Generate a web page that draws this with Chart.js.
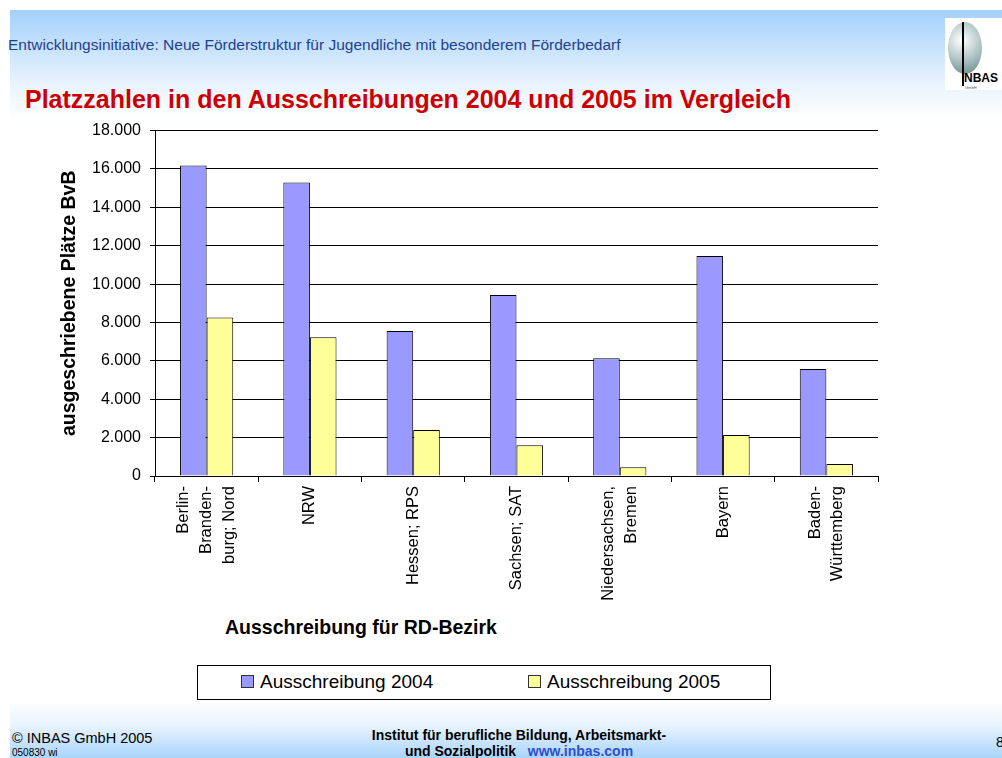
<!DOCTYPE html>
<html>
<head>
<meta charset="utf-8">
<script src="https://cdn.jsdelivr.net/npm/chart.js@4"></script>
<style>
  html, body { margin: 0; padding: 0; }
  body { width: 1002px; height: 758px; position: relative; overflow: hidden; background: #fff; font-family: Arial, "Liberation Sans", sans-serif; }
  #slide { position: absolute; left: 10px; top: 10px; right: 0; bottom: 0;
    background: linear-gradient(to bottom, #a3d0fb 0px, #e6f2fe 70px, #ffffff 110px, #ffffff 690px, #eaf4fe 715px, #a9d4fb 748px); }
  .abs { position: absolute; white-space: nowrap; }
  #sub { left: 8px; top: 36px; font-size: 15.5px; color: #233f8c; }
  #title { left: 25px; top: 85px; font-size: 25px; font-weight: bold; color: #cc0000; }
  #box { left: 40px; top: 122px; width: 840px; height: 581px; background: #fff; }
  #wrap { left: 40px; top: 112px; width: 840px; height: 500px; }
  #xtitle { left: 225px; top: 616px; font-size: 19.5px; font-weight: bold; color: #000; }
  #legend { left: 197px; top: 665px; width: 572px; height: 33px; border: 1px solid #000; background: #fff; }
  .item { position: absolute; top: 6px; font-size: 19px; line-height: 19px; color: #000; }
  .sw { display: inline-block; width: 11px; height: 11px; border: 1px solid #333; margin-right: 6px; vertical-align: 0px; }
  #logo { left: 945px; top: 18px; width: 57px; height: 72px; background: #fff; }
  #foot1 { left: 12px; top: 730px; font-size: 14.5px; color: #000; }
  #foot2 { left: 12px; top: 747px; font-size: 10px; color: #000; }
  #foot3 { left: 369px; top: 727px; width: 300px; text-align: center; font-size: 14px; font-weight: bold; line-height: 16px; color: #000; }
  #foot3 span { color: #2f4fd0; }
  #page { left: 996px; top: 734px; font-size: 14px; }
</style>
</head>
<body>
<div id="slide"></div>
<div class="abs" id="sub">Entwicklungsinitiative: Neue Förderstruktur für Jugendliche mit besonderem Förderbedarf</div>
<div class="abs" id="logo">
  <div style="position:absolute;left:3px;top:4px;width:34px;height:52px;border-radius:50%;background:radial-gradient(circle at 40% 35%, #ffffff, #9fb8b8 60%, #5f7f80);"></div>
  <div style="position:absolute;left:17px;top:4px;width:2px;height:64px;background:#000;"></div>
  <div style="position:absolute;left:19px;top:53px;font-size:12px;font-weight:bold;color:#000;">NBAS</div>
  <div style="position:absolute;left:20px;top:67px;font-size:4px;color:#555;">GmbH</div>
</div>
<div class="abs" id="title">Platzzahlen in den Ausschreibungen 2004 und 2005 im Vergleich</div>
<div class="abs" id="box"></div>
<div class="abs" id="wrap"><canvas id="chart"></canvas></div>
<div class="abs" id="xtitle">Ausschreibung für RD-Bezirk</div>
<div class="abs" id="legend"></div>
<div class="abs" id="foot1">© INBAS GmbH 2005</div>
<div class="abs" id="foot2">050830 wi</div>
<div class="abs" id="foot3">Institut für berufliche Bildung, Arbeitsmarkt-<br>und Sozialpolitik &nbsp;&nbsp;<span>www.inbas.com</span></div>
<div class="abs" id="page">8</div>

<script>
// data
const regions = [
    ['Berlin-', 'Branden-', 'burg; Nord'],
    'NRW',
    'Hessen; RPS',
    'Sachsen; SAT',
    ['Niedersachsen,', 'Bremen'],
    'Bayern',
    ['Baden-', 'Württemberg']
];
const places2004 = [16180, 15290, 7560, 9430, 6140, 11460, 5580];
const places2005 = [8260, 7230, 2400, 1600, 450, 2140, 620];
const seriesNames = ['Ausschreibung 2004', 'Ausschreibung 2005'];
const seriesColors = ['#9999ff', '#ffff99'];

const labelFont = { family: 'Arial, "Liberation Sans"', size: 16.5, lineHeight: 1.38 };

// Chart.js puts the first line of a rotated label on the tick,
// the slide centres the whole block on it
const centerLabelBlocks = {
    id: 'centerLabelBlocks',
    beforeDraw(chart) {
        const lh = labelFont.size * labelFont.lineHeight;
        chart.scales.x.getLabelItems().forEach(item => {
            if (item._moved) return;
            const n = Array.isArray(item.label) ? item.label.length : 1;
            item.options.translation[0] -= (n - 1) * lh / 2;
            item._moved = true;
        });
    }
};

const ctx = document.getElementById('chart').getContext('2d');

const chart = new Chart(ctx, {
    type: 'bar',
    data: {
        labels: regions,
        datasets: [
            { label: seriesNames[0], data: places2004, backgroundColor: seriesColors[0], borderColor: '#000', borderWidth: 1 },
            { label: seriesNames[1], data: places2005, backgroundColor: seriesColors[1], borderColor: '#000', borderWidth: 1 }
        ]
    },
    options: {
        responsive: false,
        animation: false,
        maintainAspectRatio: false,
        layout: { padding: { top: 10, right: 2, left: 0, bottom: 0 } },
        datasets: { bar: { categoryPercentage: 0.515, barPercentage: 1 } },
        plugins: { legend: { display: false }, tooltip: { enabled: false } },
        scales: {
            x: {
                afterFit: s => { s.height = 136; },
                grid: { offset: true, drawOnChartArea: false, color: '#000', tickLength: 6 },
                border: { color: '#000' },
                ticks: {
                    color: '#000', minRotation: 90, maxRotation: 90, padding: 4,
                    font: labelFont
                }
            },
            y: {
                min: 0, max: 18000,
                afterFit: s => { s.width = 115; },
                grid: { color: '#000', tickLength: 5 },
                border: { color: '#000' },
                title: {
                    display: true, text: 'ausgeschriebene Plätze BvB', color: '#000',
                    font: { family: 'Arial, "Liberation Sans"', size: 19.5, weight: 'bold' },
                    padding: { top: 18, bottom: 0 }
                },
                ticks: {
                    stepSize: 2000, color: '#000', padding: 9,
                    font: { family: 'Arial, "Liberation Sans"', size: 16 },
                    callback: v => v.toLocaleString('de-DE')
                }
            }
        }
    },
    plugins: [centerLabelBlocks]
});
chart.resize(840, 500);

// legend box like the slide
const legend = document.getElementById('legend');
const legendX = [43, 330];
seriesNames.forEach((name, i) => {
    const item = document.createElement('div');
    item.className = 'item';
    item.style.left = legendX[i] + 'px';
    item.innerHTML = '<span class="sw" style="background:' + seriesColors[i] + '"></span>' + name;
    legend.appendChild(item);
});
</script>
</body>
</html>
